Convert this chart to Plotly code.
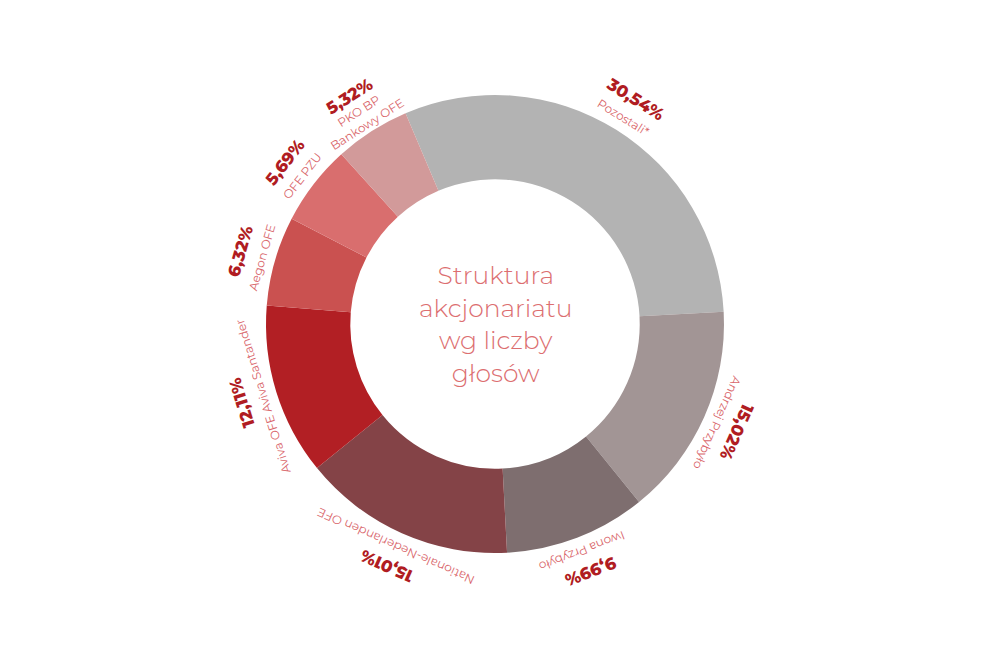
import numpy as np
import plotly.graph_objects as go

labels = ["Pozostali*", "Andrzej Przybyło", "Iwona Przybyło", "Nationale-Nederlanden OFE",
          "Aviva OFE Aviva Santander", "Aegon OFE", "OFE PZU", "PKO BP<br>Bankowy OFE"]
values = [30.54, 15.02, 9.99, 15.01, 12.11, 6.32, 5.69, 5.32]
pct_text = ["30,54%", "15,02%", "9,99%", "15,01%", "12,11%", "6,32%", "5,69%", "5,32%"]
colors = ["#b3b3b3", "#a29595", "#7e6e6f", "#844347", "#b21f24", "#ca5150", "#d96e6e", "#d29a9a"]

W, H = 993, 672
cx, cy, R = 487, 316, 229
start = -23  # degrees clockwise from 12 o'clock

fig = go.Figure()
fig.add_trace(go.Pie(
    labels=labels, values=values, sort=False, direction="clockwise", rotation=start,
    hole=0.632, marker=dict(colors=colors, line=dict(width=0)),
    textinfo="none", hoverinfo="label+percent", showlegend=False,
    domain=dict(x=[(cx - R) / W, (cx + R) / W], y=[1 - (cy + R) / H, 1 - (cy - R) / H]),
))

# labels rotated along the ring
tot = sum(values)
cum = np.cumsum([0] + values[:-1])
ann = []
for i, v in enumerate(values):
    mid = start + (cum[i] + v / 2) / tot * 360
    nl = labels[i].count("<br>") + 1
    rp = 265 + (nl - 1) * 5
    rn = 243 + (nl - 1) * 1.5
    t = np.radians(mid)
    for r, txt, f in [(rp, pct_text[i], dict(size=17, color="#b01c22", family="Montserrat, Lato, sans-serif", weight=800)),
                      (rn, labels[i], dict(size=12, color="#d9666b", family="Montserrat, Lato, sans-serif"))]:
        ann.append(dict(
            x=(cx + r * np.sin(t)) / W, y=1 - (cy - r * np.cos(t)) / H,
            xref="paper", yref="paper", text=txt, showarrow=False,
            textangle=mid % 360 if mid % 360 <= 180 else mid % 360 - 360,
            font=f, xanchor="center", yanchor="middle",
        ))

ann.append(dict(
    x=cx / W, y=1 - cy / H, xref="paper", yref="paper", showarrow=False,
    text="Struktura<br>akcjonariatu<br>wg liczby<br>głosów",
    font=dict(size=25, color="#dc6e70", family="Montserrat, Lato, sans-serif", weight=300),
    xanchor="center", yanchor="middle",
))

fig.update_layout(
    width=W, height=H, margin=dict(l=0, r=0, t=0, b=0),
    paper_bgcolor="white", plot_bgcolor="white", annotations=ann,
)
fig.write_html("out.html")
